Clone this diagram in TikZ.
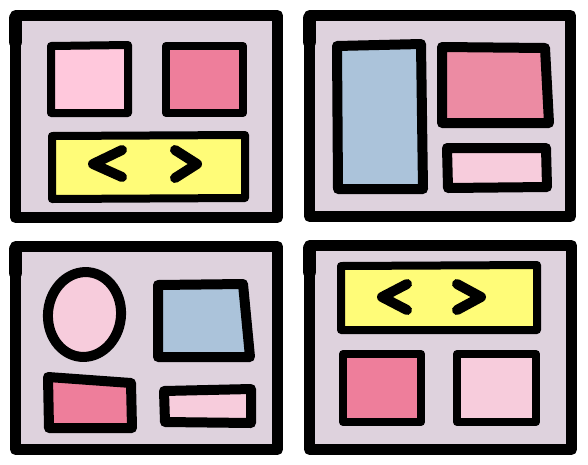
\documentclass[tikz,border=0pt]{standalone}
\definecolor{bgm}{HTML}{DED2DD}
\definecolor{lpink}{HTML}{FFC8DC}
\definecolor{lpinkb}{HTML}{F7CCDC}
\definecolor{dpink}{HTML}{EE7E9B}
\definecolor{mpink}{HTML}{EC8BA3}
\definecolor{sblue}{HTML}{ABC3DA}
\definecolor{syel}{HTML}{FFFC78}
\tikzset{
  framebox/.style={draw=black,fill=bgm,line width=11pt,line join=round},
  thinbox/.style={draw=black,line width=8pt,line join=round},
  thickbox/.style={draw=black,line width=10pt,line join=round},
  chev/.style={draw=black,line width=10pt,line cap=round,line join=round},
  blob/.style={draw=black,line width=13pt,line cap=round}
}
\begin{document}
\begin{tikzpicture}[x=1pt,y=-1pt]
\useasboundingbox (0,0) rectangle (588,464);
\fill[white] (0,0) rectangle (588,464);
% ---------- panel 1 ----------
\draw[framebox] (15.5,15.5) -- (277.5,15.5) -- (277.5,217.5) -- (15.5,217.5) -- cycle;
\draw[blob] (15.5,18) -- (15.5,42);
\draw[thinbox,fill=lpink] (51,46) -- (128,45) -- (128,113) -- (51,113) -- cycle;
\draw[thinbox,fill=dpink] (166,46) -- (243,46) -- (243,113) -- (166,113) -- cycle;
\draw[thinbox,fill=syel] (52,136) -- (245,135) -- (245,198) -- (52,199) -- cycle;
\draw[chev] (122,150) -- (93,164) -- (122,177);
\draw[chev] (175,150) -- (197,164) -- (175,178);
% ---------- panel 2 ----------
\draw[framebox] (309.5,15.5) -- (570.5,15.5) -- (570.5,216.5) -- (309.5,216.5) -- cycle;
\draw[blob] (309.5,18) -- (309.5,42);
\draw[thickbox,fill=sblue] (337,46) -- (421,44) -- (423,189) -- (338,189) -- cycle;
\draw[thickbox,fill=mpink] (442,47) -- (545,48) -- (549,123) -- (442,123) -- cycle;
\draw[thickbox,fill=lpinkb] (447,148) -- (546,148) -- (547,187) -- (448,188) -- cycle;
% ---------- panel 3 ----------
\draw[framebox] (15.5,246.5) -- (277.5,246.5) -- (277.5,449.5) -- (15.5,449.5) -- cycle;
\draw[blob] (15.5,249) -- (15.5,273);
\draw[thickbox,fill=lpinkb,rotate around={-6:(84.5,314.5)}] (84.5,314.5) ellipse [x radius=36.5pt, y radius=42.5pt];
\draw[thickbox,fill=sblue] (158,285) -- (243,284) -- (250,357) -- (158,357) -- cycle;
\draw[thickbox,fill=dpink] (48,377) -- (131,383) -- (132,428) -- (49,428) -- cycle;
\draw[thickbox,fill=lpinkb] (164,391) -- (251,389) -- (251,423) -- (165,422) -- cycle;
% ---------- panel 4 ----------
\draw[framebox] (309.5,245.5) -- (571.5,245.5) -- (571.5,449.5) -- (309.5,449.5) -- cycle;
\draw[blob] (309.5,248) -- (309.5,272);
\draw[thinbox,fill=syel] (341,266) -- (537,265) -- (537,330) -- (341,330) -- cycle;
\draw[chev] (407,284) -- (382,297) -- (407,310);
\draw[chev] (457,284) -- (481,297) -- (457,310);
\draw[thinbox,fill=dpink] (343,354) -- (421,354) -- (421,422) -- (343,422) -- cycle;
\draw[thinbox,fill=lpinkb] (457,354) -- (536,354) -- (536,422) -- (457,422) -- cycle;
\end{tikzpicture}
\end{document}
